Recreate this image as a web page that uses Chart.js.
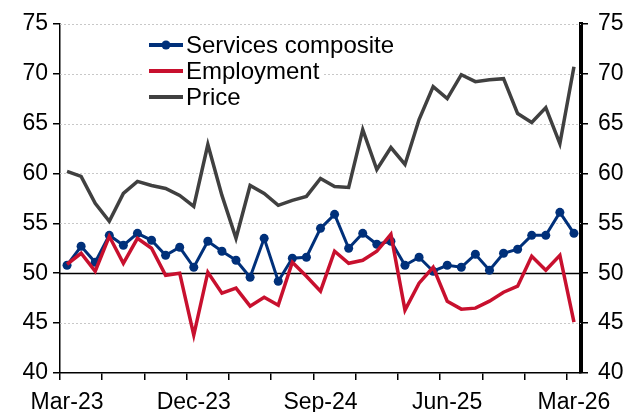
<!DOCTYPE html>
<html>
<head>
<meta charset="utf-8">
<script src="https://cdn.jsdelivr.net/npm/chart.js@4"></script>
<style>
  body { margin: 0; background: #fff; }
  canvas { display: block; }
</style>
</head>
<body>
<canvas id="pmiChart" width="626" height="412"></canvas>
<script>
// monthly, Mar-23 .. Mar-26
var months = ['Mar-23', 'Apr-23', 'May-23', 'Jun-23', 'Jul-23', 'Aug-23', 'Sep-23', 'Oct-23', 'Nov-23',
    'Dec-23', 'Jan-24', 'Feb-24', 'Mar-24', 'Apr-24', 'May-24', 'Jun-24', 'Jul-24', 'Aug-24',
    'Sep-24', 'Oct-24', 'Nov-24', 'Dec-24', 'Jan-25', 'Feb-25', 'Mar-25', 'Apr-25', 'May-25',
    'Jun-25', 'Jul-25', 'Aug-25', 'Sep-25', 'Oct-25', 'Nov-25', 'Dec-25', 'Jan-26', 'Feb-26', 'Mar-26'];

var servicesComposite = [50.8, 52.7, 51.1, 53.8, 52.8, 54.0, 53.3, 51.8, 52.6, 50.6, 53.2, 52.2, 51.3,
    49.6, 53.5, 49.2, 51.5, 51.6, 54.5, 55.9, 52.5, 54.0, 52.9, 53.2, 50.8, 51.6, 50.2, 50.8, 50.6,
    51.9, 50.3, 52.0, 52.4, 53.8, 53.8, 56.1, 54.0];

var employment = [50.9, 52.0, 50.2, 53.7, 51.0, 53.5, 52.5, 49.8, 50.0, 43.8, 50.1, 48.0, 48.5,
    46.7, 47.6, 46.8, 51.1, 49.7, 48.2, 52.2, 51.0, 51.3, 52.2, 53.9, 46.3, 49.0, 50.6, 47.2, 46.4,
    46.5, 47.2, 48.1, 48.7, 51.7, 50.3, 51.8, 45.1];

var price = [60.2, 59.7, 57.0, 55.2, 58.0, 59.2, 58.8, 58.5, 57.8, 56.7, 62.9, 57.8, 53.5,
    58.8, 58.0, 56.8, 57.3, 57.7, 59.5, 58.7, 58.6, 64.4, 60.4, 62.6, 60.9, 65.4, 68.7, 67.5, 69.9,
    69.2, 69.4, 69.5, 66.0, 65.1, 66.6, 63.0, 70.7];

var yTicks = [40, 45, 50, 55, 60, 65, 70, 75];

var NAVY = '#00307a';
var RED = '#c8102e';
var GREY = '#404040';
var tickFont = { family: 'Liberation Sans, Arial, sans-serif', size: 23 };

// dotted grid + solid 50 line
var gridPlugin = {
    id: 'gridPlugin',
    beforeDatasetsDraw: function (chart) {
        var ctx = chart.ctx, area = chart.chartArea, y = chart.scales.y;
        ctx.save();
        yTicks.forEach(function (v) {
            if (v === 40) return;
            var py = Math.round(y.getPixelForValue(v)) + 0.5;
            ctx.beginPath();
            if (v === 50) {
                ctx.setLineDash([]);
                ctx.strokeStyle = '#000';
                ctx.lineWidth = 1.5;
            } else {
                ctx.setLineDash([2, 2]);
                ctx.strokeStyle = '#c8c8c8';
                ctx.lineWidth = 1;
            }
            ctx.moveTo(area.left, py);
            ctx.lineTo(area.right, py);
            ctx.stroke();
        });
        ctx.restore();
    }
};

// legend sitting inside the plot
var legendPlugin = {
    id: 'legendPlugin',
    afterDatasetsDraw: function (chart) {
        var ctx = chart.ctx;
        var rows = [
            { ds: 0, y: 45 },
            { ds: 1, y: 71 },
            { ds: 2, y: 97 }
        ];
        ctx.save();
        ctx.font = '24px Liberation Sans, Arial, sans-serif';
        ctx.textBaseline = 'middle';
        rows.forEach(function (r) {
            var ds = chart.data.datasets[r.ds];
            var w = ctx.measureText(ds.label).width;
            ctx.fillStyle = '#fff';
            ctx.fillRect(143, r.y - 12, 186 + w + 4 - 143, 24);
            ctx.strokeStyle = ds.borderColor;
            ctx.lineWidth = 4;
            ctx.beginPath();
            ctx.moveTo(149, r.y);
            ctx.lineTo(183, r.y);
            ctx.stroke();
            if (ds.pointRadius > 0) {
                ctx.fillStyle = ds.borderColor;
                ctx.beginPath();
                ctx.arc(166, r.y, 4.5, 0, Math.PI * 2);
                ctx.fill();
            }
            ctx.fillStyle = '#000';
            ctx.fillText(ds.label, 186, r.y + 1);
        });
        ctx.restore();
    }
};

var ctx = document.getElementById('pmiChart').getContext('2d');
var pmiChart = new Chart(ctx, {
    type: 'line',
    data: {
        labels: months,
        datasets: [{
            label: 'Services composite',
            data: servicesComposite,
            borderColor: NAVY,
            backgroundColor: NAVY,
            borderWidth: 3,
            pointRadius: 4.5,
            pointBorderWidth: 0,
            pointBackgroundColor: NAVY,
            tension: 0,
            order: 3
        }, {
            label: 'Employment',
            data: employment,
            borderColor: RED,
            backgroundColor: RED,
            borderWidth: 3.5,
            pointRadius: 0,
            tension: 0,
            order: 2
        }, {
            label: 'Price',
            data: price,
            borderColor: GREY,
            backgroundColor: GREY,
            borderWidth: 3.5,
            pointRadius: 0,
            tension: 0,
            order: 1
        }]
    },
    options: {
        responsive: false,
        animation: false,
        events: [],
        layout: { padding: { top: 20 } },
        plugins: {
            legend: { display: false },
            tooltip: { enabled: false }
        },
        scales: {
            x: {
                type: 'category',
                offset: true,
                grid: {
                    offset: true,
                    drawOnChartArea: false,
                    tickLength: 7,
                    lineWidth: 1.5,
                    color: function (c) { return c.index % 3 === 0 ? '#000' : 'rgba(0,0,0,0)'; }
                },
                border: { color: '#000', width: 1.5 },
                ticks: {
                    autoSkip: false,
                    maxRotation: 0,
                    color: '#000',
                    font: tickFont,
                    padding: 9,
                    callback: function (val, i) { return i % 9 === 0 ? months[i] : ''; }
                },
                afterFit: function (s) { s.height = 39; }
            },
            y: {
                position: 'left',
                min: 40,
                max: 75,
                grid: { drawOnChartArea: false, tickLength: 7, color: '#000', lineWidth: 1.5 },
                border: { color: '#000', width: 1.5 },
                ticks: { stepSize: 5, color: '#000', font: tickFont, padding: 5 },
                afterFit: function (s) { s.width = 60; }
            },
            y2: {
                position: 'right',
                min: 40,
                max: 75,
                grid: { drawOnChartArea: false, tickLength: 7, color: '#000', lineWidth: 1.5 },
                border: { color: '#000', width: 4 },
                ticks: { stepSize: 5, color: '#000', font: tickFont, padding: 10 },
                afterFit: function (s) { s.width = 45; }
            }
        }
    },
    plugins: [gridPlugin, legendPlugin]
});
</script>
</body>
</html>
